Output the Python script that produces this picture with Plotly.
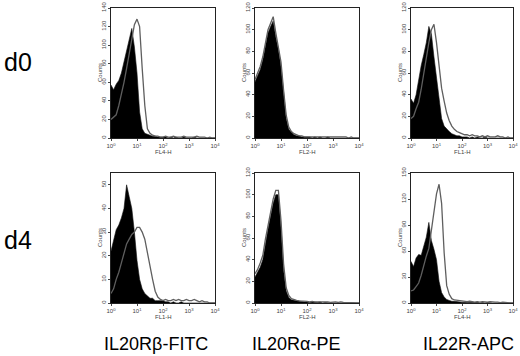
import numpy as np
import plotly.graph_objects as go

# log10 channel grid (decades 0..4, step 0.1)
decades = np.round(np.arange(0, 4.01, 0.1), 1)
channels = 10 ** decades

row_labels = ["d0", "d4"]
col_labels = ["IL20Rβ-FITC", "IL20Rα-PE", "IL22R-APC"]
x_titles = [["FL4-H", "FL2-H", "FL1-H"], ["FL1-H", "FL2-H", "FL4-H"]]
x_ticktext = ["10<sup>0</sup>", "10<sup>1</sup>", "10<sup>2</sup>", "10<sup>3</sup>", "10<sup>4</sup>"]

# y-axis maxima and tick steps per panel
y_max = [[140, 120, 120], [55, 120, 150]]
y_step = [[20, 20, 20], [10, 20, 30]]

# panel 1 (d0, IL20Rb)
p1_fill = [57, 52, 58, 62, 70, 82, 93, 108, 118, 98, 70, 28, 10, 5, 4, 3, 2, 2, 1, 1,
           1, 1, 0, 1, 0, 1, 0, 0, 1, 0, 0, 0, 1, 0, 0, 0, 0, 0, 0, 0, 0]
p1_line = [20, 22, 25, 35, 46, 60, 75, 90, 108, 122, 128, 120, 75, 35, 10, 5, 3, 2, 2, 1,
           1, 2, 1, 1, 2, 1, 1, 1, 2, 1, 1, 1, 1, 2, 1, 1, 1, 0, 1, 0, 0]
# panel 2 (d0, IL20Ra)
p2_fill = [52, 58, 63, 72, 85, 97, 103, 108, 93, 82, 66, 40, 18, 8, 5, 3, 2, 2, 1, 1,
           1, 1, 0, 1, 0, 1, 0, 0, 1, 0, 0, 0, 0, 0, 0, 0, 0, 0, 0, 0, 0]
p2_line = [54, 60, 66, 75, 88, 100, 106, 112, 97, 85, 70, 44, 21, 10, 6, 4, 3, 2, 2, 1,
           1, 1, 1, 1, 1, 1, 1, 1, 1, 1, 1, 1, 1, 1, 1, 1, 0, 1, 0, 0, 0]
# panel 3 (d0, IL22R)
p3_fill = [36, 32, 40, 55, 67, 77, 88, 103, 96, 75, 55, 35, 18, 11, 8, 6, 4, 3, 2, 2,
           1, 1, 1, 0, 1, 0, 1, 0, 0, 1, 0, 0, 0, 0, 0, 0, 0, 0, 0, 0, 0]
p3_line = [18, 20, 27, 33, 45, 60, 75, 88, 100, 105, 88, 66, 46, 34, 23, 16, 11, 8, 6, 5,
           4, 3, 3, 2, 3, 2, 2, 1, 2, 1, 2, 1, 1, 1, 2, 1, 1, 0, 1, 0, 0]
# panel 4 (d4, IL20Rb)
p4_fill = [22, 27, 31, 33, 36, 40, 50, 45, 40, 30, 18, 10, 6, 4, 3, 2, 2, 1, 1, 1,
           1, 0.5, 0.5, 0, 0.5, 0, 0, 0.5, 0, 0, 0, 0, 0, 0, 0, 0, 0, 0, 0, 0, 0]
p4_line = [4, 6, 10, 13, 17, 21, 25, 27, 29, 30, 32, 32, 30, 27, 21, 15, 10, 5, 2.5, 1.5,
           1, 1.5, 1, 1, 1.5, 1, 1.5, 1, 1, 1.5, 1, 1, 1.5, 1, 0.5, 1, 0.5, 0.5, 0, 0, 0]
# panel 5 (d4, IL20Ra)
p5_fill = [24, 28, 33, 40, 55, 68, 80, 92, 100, 100, 70, 30, 11, 5, 3, 2.5, 2, 1.5, 1, 1,
           1, 0.5, 1, 0.5, 0.5, 1, 0, 0.5, 0, 0, 0, 0, 0, 0, 0, 0, 0, 0, 0, 0, 0]
p5_line = [27, 31, 37, 44, 59, 72, 84, 96, 104, 104, 76, 36, 14, 7, 4, 3, 2.5, 2, 2, 1.5,
           1.5, 1, 1.5, 1, 1, 1.5, 1, 1, 1, 0.5, 1, 1, 0.5, 1, 0.5, 0.5, 0.5, 0, 0.5, 0, 0]
# panel 6 (d4, IL22R)
p6_fill = [48, 42, 52, 56, 55, 67, 76, 93, 72, 62, 50, 25, 12, 7, 4, 3, 2, 2, 1.5, 1,
           1, 1, 0.5, 1, 0.5, 0.5, 1, 0, 0.5, 0, 0.5, 0, 0, 0, 0, 0, 0, 0, 0, 0, 0]
p6_line = [14, 15, 19, 23, 32, 44, 54, 63, 84, 107, 126, 137, 115, 58, 20, 10, 5, 3.5, 3, 2.5,
           2, 2, 1.5, 2, 1.5, 1, 1.5, 1, 1.5, 1, 1, 1.5, 1, 1, 1, 0.5, 1, 0.5, 0.5, 0, 0]

fills = [[p1_fill, p2_fill, p3_fill], [p4_fill, p5_fill, p6_fill]]
lines = [[p1_line, p2_line, p3_line], [p4_line, p5_line, p6_line]]

W, H = 520, 356
col_px = [(111, 215), (255, 359), (411, 513)]
row_px = [(8, 138), (173, 303)]

fig = go.Figure()
layout = dict(width=W, height=H, margin=dict(l=0, r=0, t=0, b=0),
              paper_bgcolor="white", plot_bgcolor="white", showlegend=False)
annotations = []
tick_font = dict(family="Arial, Liberation Sans", size=6, color="#444")

k = 0
for r in range(2):
    for c in range(3):
        k += 1
        xa = "x" if k == 1 else f"x{k}"
        ya = "y" if k == 1 else f"y{k}"
        fig.add_trace(go.Scatter(x=channels, y=fills[r][c], mode="lines",
                                 fill="tozeroy", fillcolor="black",
                                 line=dict(color="#111", width=0.6),
                                 xaxis=xa, yaxis=ya, hoverinfo="skip"))
        fig.add_trace(go.Scatter(x=channels, y=lines[r][c], mode="lines",
                                 line=dict(color="#5f5f5f", width=1.3),
                                 xaxis=xa, yaxis=ya, hoverinfo="skip"))
        x0, x1 = col_px[c]
        y0, y1 = row_px[r]
        key_x = "xaxis" if k == 1 else f"xaxis{k}"
        key_y = "yaxis" if k == 1 else f"yaxis{k}"
        layout[key_x] = dict(domain=[x0 / W, x1 / W], anchor=ya, type="log",
                             range=[0, 4], tickvals=[1, 10, 100, 1000, 10000],
                             ticktext=x_ticktext, tickfont=tick_font,
                             showgrid=False, zeroline=False, showline=True,
                             linecolor="#222", linewidth=1, mirror=True,
                             ticks="outside", ticklen=2, tickcolor="#444",
                             automargin=False)
        ym = y_max[r][c]
        layout[key_y] = dict(domain=[1 - y1 / H, 1 - y0 / H], anchor=xa,
                             range=[0, ym],
                             tickvals=list(range(0, ym + 1, y_step[r][c])),
                             tickfont=tick_font, tickangle=-90,
                             showgrid=False, zeroline=False, showline=True,
                             linecolor="#222", linewidth=1, mirror=True,
                             ticks="outside", ticklen=2, tickcolor="#444",
                             automargin=False)
        # axis titles
        annotations.append(dict(x=(x0 + x1) / 2 / W, y=1 - (y1 + 14) / H,
                                xref="paper", yref="paper", text=x_titles[r][c],
                                showarrow=False, font=tick_font,
                                xanchor="center", yanchor="middle"))
        annotations.append(dict(x=(x0 - 11) / W, y=1 - (y0 + y1) / 2 / H,
                                xref="paper", yref="paper", text="Counts",
                                showarrow=False, font=tick_font, textangle=-90,
                                xanchor="center", yanchor="middle"))

big_font = dict(family="Arial, Liberation Sans", color="black")
row_y = [62, 240]
for lbl, yp in zip(row_labels, row_y):
    annotations.append(dict(x=2 / W, y=1 - yp / H, xref="paper", yref="paper",
                            text=lbl, showarrow=False, font=dict(size=25, **big_font),
                            xanchor="left", yanchor="middle"))
col_cx = [156, 296, 468]
for lbl, xp in zip(col_labels, col_cx):
    annotations.append(dict(x=xp / W, y=1 - 344 / H, xref="paper", yref="paper",
                            text=lbl, showarrow=False, font=dict(size=18, **big_font),
                            xanchor="center", yanchor="middle"))

layout["annotations"] = annotations
fig.update_layout(**layout)
fig.write_html("out.html", config={"displayModeBar": False},
               post_script="document.body.style.margin='0';document.body.style.overflow='hidden';")
